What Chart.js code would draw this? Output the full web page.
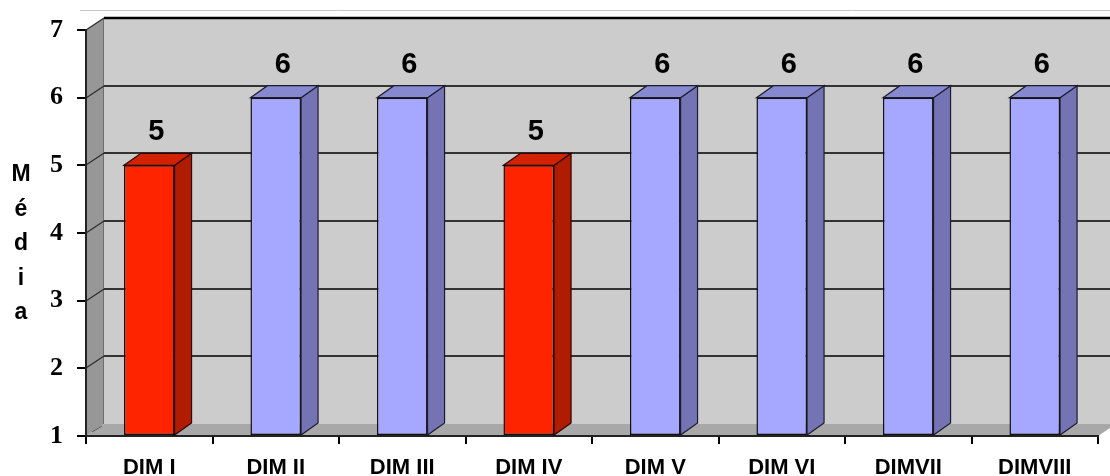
<!DOCTYPE html>
<html>
<head>
<meta charset="utf-8">
<script src="https://cdn.jsdelivr.net/npm/chart.js@4.4.1/dist/chart.umd.min.js"></script>
<style>
  html, body { margin: 0; padding: 0; background: #ffffff; }
  #wrap { width: 1110px; height: 476px; position: relative; }
</style>
</head>
<body>
<div id="wrap"><canvas id="chart" width="1110" height="476"></canvas></div>
<script>
// Mean score per dimension
const categories = ['DIM I', 'DIM II', 'DIM III', 'DIM IV', 'DIM V', 'DIM VI', 'DIMVII', 'DIMVIII'];
const mediaValues = [5, 6, 6, 5, 6, 6, 6, 6];
const yTicks = [1, 2, 3, 4, 5, 6, 7];
const yTitle = 'Média';

// depth of the 3D box (px)
const DX = 18;
const DY = 12;

const topValue = Math.max(...mediaValues);
const FACE = {
  low:  { front: '#ff2400', side: '#b01c00', top: '#d22200', edge: '#2a0600' },
  high: { front: '#a6a8ff', side: '#7474b4', top: '#8688d0', edge: '#1c1c30' }
};
const faceFor = v => (v < topValue ? FACE.low : FACE.high);

function poly(ctx, pts, fill, stroke, lw) {
  ctx.beginPath();
  ctx.moveTo(pts[0][0], pts[0][1]);
  for (let i = 1; i < pts.length; i++) ctx.lineTo(pts[i][0], pts[i][1]);
  ctx.closePath();
  if (fill) { ctx.fillStyle = fill; ctx.fill(); }
  if (stroke) { ctx.strokeStyle = stroke; ctx.lineWidth = lw || 1; ctx.stroke(); }
}

// walls, floor and gridlines of the 3D box
const boxPlugin = {
  id: 'box3d',
  beforeDraw(chart) {
    const { ctx, chartArea: a, scales: { y } } = chart;
    const L = a.left, R = a.right, T = a.top, B = a.bottom, W = chart.width;
    ctx.save();
    ctx.fillStyle = '#ffffff';
    ctx.fillRect(0, 0, W, chart.height);

    // outer frame line
    ctx.strokeStyle = '#c4c4c4';
    ctx.lineWidth = 1;
    ctx.beginPath(); ctx.moveTo(L - 6, 10.5); ctx.lineTo(W, 10.5); ctx.stroke();

    // back wall
    ctx.fillStyle = '#cccccc';
    ctx.fillRect(L + DX, T - DY, W - (L + DX), B - T);
    // left wall
    poly(ctx, [[L, T], [L + DX, T - DY], [L + DX, B - DY], [L, B]], '#979797');
    ctx.strokeStyle = '#6e6e6e'; ctx.lineWidth = 1;
    ctx.beginPath(); ctx.moveTo(L + DX - 0.5, T - DY); ctx.lineTo(L + DX - 0.5, B - DY); ctx.stroke();
    // floor
    poly(ctx, [[L, B], [L + DX, B - DY], [R + DX, B - DY], [R, B]], '#a8a8a8');
    ctx.strokeStyle = '#555555'; ctx.lineWidth = 1;
    ctx.beginPath(); ctx.moveTo(L + 6, B - 4); ctx.lineTo(L + DX - 2, B - DY + 2); ctx.stroke();

    // gridlines: back wall and left wall
    yTicks.forEach(v => {
      if (v === yTicks[0]) return;
      const py = Math.round(y.getPixelForValue(v));
      ctx.strokeStyle = '#000000';
      ctx.lineWidth = v === yTicks[yTicks.length - 1] ? 2.5 : 1.6;
      ctx.beginPath(); ctx.moveTo(L + DX, py - DY); ctx.lineTo(W, py - DY); ctx.stroke();
      ctx.strokeStyle = '#2a2a2a';
      ctx.lineWidth = 1.2;
      ctx.beginPath(); ctx.moveTo(L, py); ctx.lineTo(L + DX, py - DY); ctx.stroke();
    });
    ctx.restore();
  },
  afterDatasetsDraw(chart) {
    const { ctx } = chart;
    const meta = chart.getDatasetMeta(0);
    ctx.save();
    meta.data.forEach((bar, i) => {
      const { x, y, base, width } = bar.getProps(['x', 'y', 'base', 'width'], true);
      const l = x - width / 2, r = x + width / 2;
      const f = faceFor(mediaValues[i]);
      // side face
      poly(ctx, [[r, y], [r + DX - 1, y - DY], [r + DX - 1, base - DY], [r, base]], f.side, f.edge, 1.2);
      // top face
      poly(ctx, [[l, y], [l + DX - 1, y - DY], [r + DX - 1, y - DY], [r, y]], f.top, f.edge, 1.2);
      // value label
      ctx.fillStyle = '#000000';
      ctx.font = 'bold 29px "Liberation Sans", Arial, sans-serif';
      ctx.textAlign = 'center';
      ctx.textBaseline = 'alphabetic';
      ctx.fillText(String(mediaValues[i]), x + 7, y - 25);
    });
    ctx.restore();
  },
  afterDraw(chart) {
    // vertical axis title, one letter per line
    const { ctx } = chart;
    ctx.save();
    ctx.fillStyle = '#000000';
    ctx.font = 'bold 23px "Liberation Sans", Arial, sans-serif';
    ctx.textAlign = 'center';
    ctx.textBaseline = 'alphabetic';
    Array.from(yTitle).forEach((ch, k) => ctx.fillText(ch, 21, 181 + k * 34.5));
    ctx.restore();
  }
};

new Chart(document.getElementById('chart'), {
  type: 'bar',
  data: {
    labels: categories,
    datasets: [{
      label: yTitle,
      data: mediaValues,
      base: yTicks[0],
      backgroundColor: c => faceFor(c.raw).front,
      borderColor: '#111111',
      borderWidth: 1.5,
      borderSkipped: false,
      barPercentage: 0.4,
      categoryPercentage: 1
    }]
  },
  options: {
    responsive: false,
    animation: false,
    devicePixelRatio: 1,
    layout: { padding: { left: 0, top: 30, right: 12, bottom: 0 } },
    plugins: { legend: { display: false }, tooltip: { enabled: false } },
    scales: {
      x: {
        type: 'category',
        offset: true,
        afterFit: s => { s.height = 40; },
        grid: { display: true, drawOnChartArea: false, drawTicks: true, tickLength: 8, color: '#000000', lineWidth: 2, offset: true },
        border: { display: true, color: '#222222', width: 2, dash: [1, 1] },
        ticks: {
          color: '#000000',
          padding: 11,
          font: { family: '"Liberation Sans", Arial, sans-serif', size: 22, weight: 'bold' }
        }
      },
      y: {
        min: yTicks[0],
        max: yTicks[yTicks.length - 1],
        afterFit: s => { s.width = 86; },
        afterBuildTicks: s => { s.ticks = yTicks.map(v => ({ value: v })); },
        grid: { display: true, drawOnChartArea: false, drawTicks: true, tickLength: 9, color: '#000000', lineWidth: 2 },
        border: { display: true, color: '#222222', width: 2, dash: [1, 1] },
        ticks: {
          color: '#000000',
          padding: 14,
          font: { family: '"Liberation Serif", "Times New Roman", serif', size: 26, weight: 'bold' }
        }
      }
    }
  },
  plugins: [boxPlugin]
});
</script>
</body>
</html>
